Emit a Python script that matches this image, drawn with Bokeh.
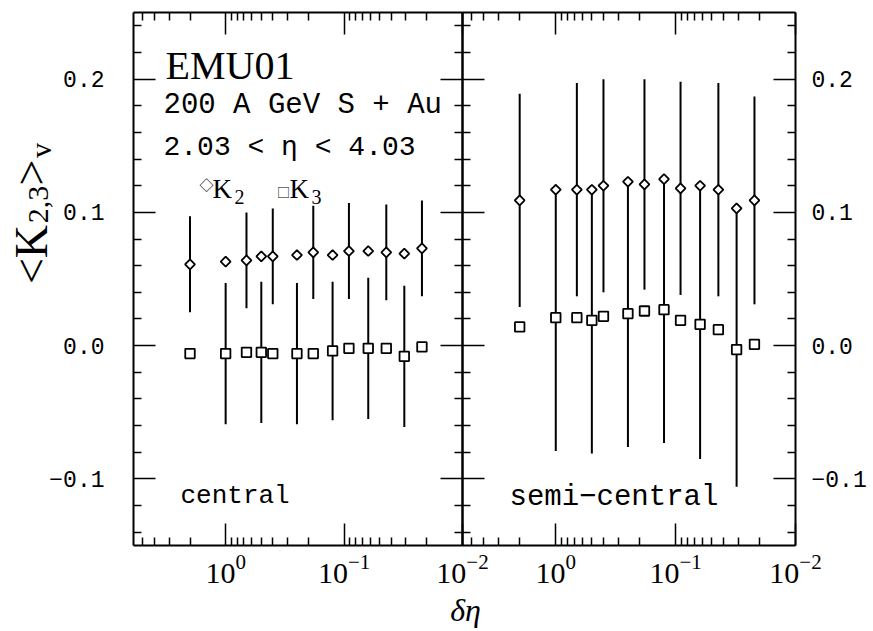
import math
from bokeh.plotting import figure
from bokeh.models import (ColumnDataSource, Range1d, FixedTicker, LogAxis,
                          LinearAxis, Whisker, Label)
from bokeh.layouts import row, column
from bokeh.embed import file_html
from bokeh.resources import INLINE

# ---------------- data ----------------
delta_eta = [2.0, 1.0, 0.667, 0.5, 0.4, 0.25, 0.182, 0.125, 0.091, 0.0625, 0.044, 0.031, 0.022]

k2_central = [0.061, 0.063, 0.064, 0.067, 0.067, 0.068, 0.070, 0.068, 0.071, 0.071, 0.070, 0.069, 0.073]
k2_central_err = [0.036, None, 0.036, None, 0.036, None, 0.035, None, 0.036, None, 0.036, None, 0.036]
k3_central = [-0.006, -0.006, -0.005, -0.005, -0.006, -0.006, -0.006, -0.004, -0.002, -0.002, -0.002, -0.008, -0.001]
k3_central_err = [None, 0.053, None, 0.053, None, 0.053, None, 0.052, None, 0.053, None, 0.053, None]

k2_semi = [0.109, 0.117, 0.117, 0.117, 0.120, 0.123, 0.121, 0.125, 0.118, 0.120, 0.117, 0.103, 0.109]
k2_semi_err = [0.080, None, 0.080, None, 0.080, None, 0.079, None, 0.080, None, 0.080, None, 0.078]
k3_semi = [0.014, 0.021, 0.021, 0.019, 0.022, 0.024, 0.026, 0.027, 0.019, 0.016, 0.012, -0.003, 0.001]
k3_semi_err = [None, 0.100, None, 0.100, None, 0.100, None, 0.100, None, 0.101, None, 0.103, None]

y_major_ticks = [-0.1, 0.0, 0.1, 0.2]
y_minor_ticks = [-0.14, -0.12, -0.08, -0.06, -0.04, -0.02, 0.02, 0.04, 0.06, 0.08,
                 0.12, 0.14, 0.16, 0.18, 0.22, 0.24]
y_tick_labels = {-0.1: "\u22120.1", 0.0: "0.0", 0.1: "0.1", 0.2: "0.2"}
x_major_ticks = [1.0, 0.1, 0.01]
x_minor_ticks = [5, 4, 3, 2, 0.9, 0.8, 0.7, 0.6, 0.5, 0.4, 0.3, 0.2,
                 0.09, 0.08, 0.07, 0.06, 0.05, 0.04, 0.03, 0.02]

SERIF = "Liberation Serif"
MONO = "Liberation Mono"
SYM = "Noto Sans CJK JP"

TITLE_W = 100
LEFT_B = 92                          # p1 left border (room for tick labels)
P1_SHIFT = 133 - TITLE_W - LEFT_B    # negative margin so frame starts at x=133
FRAME_W1, FRAME_W2, FRAME_H = 329, 333, 533
RIGHT_B = 75
TOP, BOTTOM = 12, 42
H = TOP + FRAME_H + BOTTOM          # 587
FB = TOP + FRAME_H                   # frame bottom in page px (545)


def style_axis(ax, labels, font=None, size=None, standoff=0):
    ax.axis_line_width = 2
    ax.axis_line_color = "black"
    ax.major_tick_in = 22
    ax.major_tick_out = 0
    ax.minor_tick_in = 8
    ax.minor_tick_out = 0
    ax.major_tick_line_width = 1.5
    ax.minor_tick_line_width = 1.5
    ax.major_tick_line_color = "black"
    ax.minor_tick_line_color = "black"
    if labels:
        ax.major_label_text_font = font
        ax.major_label_text_font_size = size
        ax.major_label_text_color = "black"
        ax.major_label_standoff = standoff
    else:
        ax.major_label_text_font_size = "1px"
        ax.major_label_text_alpha = 0
        ax.major_label_standoff = 0


def make_panel(width, bl, br, left_labels, right_labels):
    p = figure(width=width, height=H, x_axis_type="log",
               x_range=Range1d(6.0, 0.01), y_range=Range1d(-0.15, 0.25),
               output_backend="svg", toolbar_location=None,
               min_border_left=bl, min_border_right=br,
               min_border_top=TOP, min_border_bottom=BOTTOM)
    p.grid.visible = False
    p.outline_line_color = None
    xt = FixedTicker(ticks=x_major_ticks, minor_ticks=x_minor_ticks)
    yt = FixedTicker(ticks=y_major_ticks, minor_ticks=y_minor_ticks)
    p.xaxis.ticker = xt
    p.yaxis.ticker = yt
    style_axis(p.xaxis[0], True, SERIF, "30px", 9)
    p.yaxis.major_label_overrides = y_tick_labels
    style_axis(p.yaxis[0], left_labels, MONO, "23px", 29)
    top = LogAxis(ticker=xt)
    style_axis(top, False)
    p.add_layout(top, "above")
    right = LinearAxis(ticker=yt, major_label_overrides=y_tick_labels)
    style_axis(right, right_labels, MONO, "23px", 16)
    p.add_layout(right, "right")
    return p


def draw_series(p, k2, k2e, k3, k3e):
    for y, e in ((k2, k2e), (k3, k3e)):
        xs = [delta_eta[i] for i in range(len(e)) if e[i] is not None]
        up = [y[i] + e[i] for i in range(len(e)) if e[i] is not None]
        lo = [y[i] - e[i] for i in range(len(e)) if e[i] is not None]
        src = ColumnDataSource(dict(x=xs, upper=up, lower=lo))
        w = Whisker(base="x", upper="upper", lower="lower", source=src,
                    dimension="height", line_color="black", line_width=2,
                    upper_head=None, lower_head=None, level="underlay")
        p.add_layout(w)
    p.scatter(delta_eta, k3, marker="square", size=9.5, fill_color="white",
              line_color="black", line_width=1.8)
    p.scatter(delta_eta, k2, marker="square", angle=math.pi / 4, size=7,
              fill_color="white", line_color="black", line_width=1.8)


def txt(p, x, y, text, font, size, style="normal", angle=0.0, align="left",
        baseline="alphabetic"):
    p.add_layout(Label(x=x, y=y, x_units="screen", y_units="screen", text=text,
                       text_font=font, text_font_size=size, text_font_style=style,
                       angle=angle, text_align=align, text_baseline=baseline,
                       text_color="black"))


def blank(width, height):
    b = figure(width=width, height=height, output_backend="svg", toolbar_location=None,
               x_axis_location=None, y_axis_location=None, min_border=0,
               x_range=Range1d(0, 1), y_range=Range1d(0, 1))
    b.grid.visible = False
    b.outline_line_color = None
    return b


# ---------------- y-axis title column (centres of each piece) ----------------
pt = blank(TITLE_W, H)
A = math.pi / 2
def title_piece(cx, cy, text, size):
    txt(pt, cx, H - cy, text, SERIF, size, angle=A, align="center", baseline="middle")

title_piece(31, 296, "<K", "46px")
title_piece(38, 246, "2,3", "30px")
title_piece(31, 214, ">", "46px")
title_piece(40, 192, "v", "30px")

# ---------------- left panel: central ----------------
p1 = make_panel(LEFT_B + FRAME_W1 + 40, LEFT_B, 40, True, False)
p1.border_fill_color = None
p1.background_fill_color = None
p1.margin = (0, 0, 0, P1_SHIFT)
draw_series(p1, k2_central, k2_central_err, k3_central, k3_central_err)

def f1(px, py):
    return px - 133, FB - py

txt(p1, *f1(165, 65), "EMU01", SERIF, "40px")
txt(p1, *f1(163, 105), "200 A GeV S + Au", MONO, "29px")
txt(p1, *f1(163, 147), "2.03 < \u03b7 < 4.03", MONO, "28px")
txt(p1, *f1(180, 495), "central", MONO, "26px")
# legend  ◇K2  □K3
txt(p1, *f1(206, 183), "\u25c7", SYM, "14px", align="center")
txt(p1, *f1(212, 188), "K", SERIF, "27px")
txt(p1, *f1(234, 196), "2", SERIF, "20px")
txt(p1, *f1(283, 191), "\u25a1", SYM, "13px", align="center")
txt(p1, *f1(289, 188), "K", SERIF, "27px")
txt(p1, *f1(311, 196), "3", SERIF, "20px")

# ---------------- right panel: semi-central ----------------
p2 = make_panel(3 + FRAME_W2 + RIGHT_B, 3, RIGHT_B, False, True)
p2.border_fill_color = None
p2.background_fill_color = None
p2.margin = (0, 0, 0, -43)
draw_series(p2, k2_semi, k2_semi_err, k3_semi, k3_semi_err)

def f2(px, py):
    return px - 462, FB - py

txt(p2, *f2(509, 497), "semi\u2212central", MONO, "29px")

# ---------------- x-axis title row ----------------
BH = 43
total_w = TITLE_W + P1_SHIFT + (LEFT_B + FRAME_W1 + 40) - 43 + (3 + FRAME_W2 + RIGHT_B)
pb = blank(total_w, BH)
txt(pb, 465, (H + BH) - 609, "\u03b4\u03b7", SERIF, "32px", style="italic", align="center")

layout = column(row(pt, p1, p2), pb)
open("out.html", "w").write(file_html(layout, INLINE))
